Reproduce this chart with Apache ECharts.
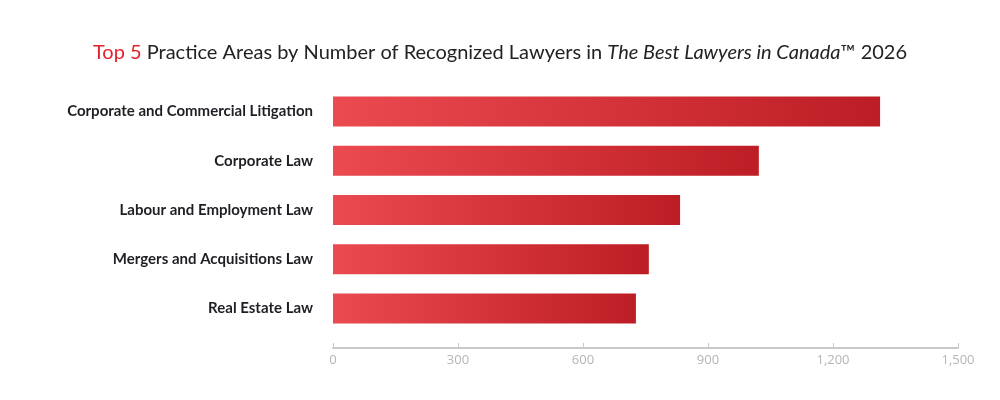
<!DOCTYPE html>
<html>
<head>
<meta charset="utf-8">
<script src="https://cdn.jsdelivr.net/npm/echarts@6/dist/echarts.min.js"></script>
<style>html,body{margin:0;background:#fff}#chart{width:1000px;height:400px}</style>
</head>
<body>
<div id="chart"></div>
<script>
// data
const categories = ['Corporate and Commercial Litigation', 'Corporate Law', 'Labour and Employment Law', 'Mergers and Acquisitions Law', 'Real Estate Law'];
const lawyers = [1313, 1022, 833, 758, 727];
const xTicks = [0, 300, 600, 900, 1200, 1500];

const chart = echarts.init(document.getElementById('chart'));
chart.setOption({
    title: {
        text: '{red|Top 5} Practice Areas by Number of Recognized Lawyers in {it|The Best Lawyers in Canada}™ 2026',
        left: 'center',
        top: 38,
        textStyle: {
            fontFamily: 'Lato', fontWeight: 'normal', fontSize: 20, color: '#222',
            rich: {
                red: { color: '#e4202a', fontFamily: 'Lato', fontSize: 20 },
                it: { fontStyle: 'italic', fontFamily: 'Lato', fontSize: 20, color: '#222' }
            }
        }
    },
    grid: { left: 333, right: 42, top: 87, bottom: 67 },
    xAxis: {
        type: 'value', min: xTicks[0], max: xTicks[xTicks.length - 1], interval: 300,
        offset: 15,
        axisLine: { show: true, lineStyle: { color: '#c8c8c8', width: 2 } },
        axisTick: { show: true, inside: true, length: 5, lineStyle: { color: '#c8c8c8' } },
        axisLabel: { color: '#b5b5b5', fontSize: 13, fontFamily: 'Open Sans', margin: 6 },
        splitLine: { show: false }
    },
    yAxis: {
        type: 'category', data: categories, inverse: true,
        axisLine: { show: false }, axisTick: { show: false },
        axisLabel: { color: '#1e1e24', fontSize: 15, fontWeight: 'bold', fontFamily: 'Lato', margin: 20 }
    },
    series: [{
        type: 'bar', data: lawyers, barWidth: 30,
        itemStyle: {
            color: new echarts.graphic.LinearGradient(0, 0, 1, 0, [
                { offset: 0, color: '#ea4a50' },
                { offset: 1, color: '#bd1d24' }
            ])
        }
    }]
});
</script>
</body>
</html>
